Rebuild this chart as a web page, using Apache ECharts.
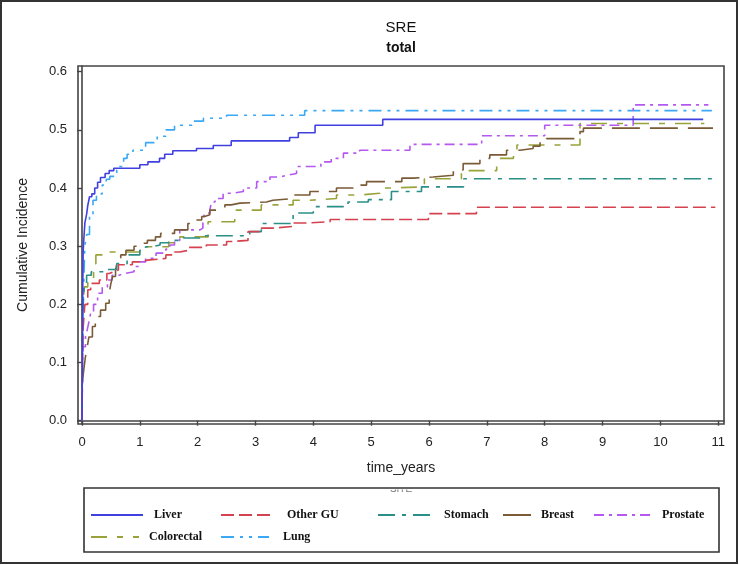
<!DOCTYPE html>
<html>
<head>
<meta charset="utf-8">
<script src="https://cdn.jsdelivr.net/npm/echarts@6/dist/echarts.min.js"></script>
<style>html,body{margin:0;padding:0;background:#fff}#c{width:740px;height:565px}</style>
</head>
<body>
<div id="c"></div>
<script>
// ---- data (time in years, cumulative incidence) ----
const seriesNames = ['Liver','Other GU','Stomach','Breast','Prostate','Colorectal','Lung'];
const xTicks = [0,1,2,3,4,5,6,7,8,9,10,11];
const yTicks = [0,0.1,0.2,0.3,0.4,0.5,0.6];

const liver = [[0,0],[0.005,0.1],[0.01,0.2],[0.02,0.29],[0.03,0.31],[0.05,0.34],[0.08,0.355],[0.1,0.37],[0.13,0.385],[0.17,0.39],[0.22,0.40],[0.27,0.41],[0.32,0.418],[0.4,0.425],[0.47,0.43],[0.55,0.434],[1.0,0.44],[1.14,0.445],[1.34,0.451],[1.43,0.458],[1.57,0.464],[1.98,0.468],[2.27,0.473],[2.58,0.481],[3.59,0.487],[3.74,0.495],[4.03,0.508],[5.2,0.518],[10.74,0.518]];
const otherGU = [[0,0],[0.005,0.06],[0.01,0.12],[0.02,0.16],[0.05,0.2],[0.1,0.225],[0.15,0.236],[0.3,0.242],[0.43,0.253],[0.47,0.256],[0.55,0.259],[0.63,0.268],[0.87,0.273],[1.0,0.276],[1.13,0.279],[1.45,0.285],[1.6,0.29],[1.69,0.293],[1.85,0.298],[2.15,0.302],[2.5,0.308],[2.6,0.31],[2.87,0.325],[3.1,0.331],[3.3,0.334],[3.65,0.34],[3.9,0.342],[4.29,0.346],[5.99,0.356],[6.82,0.367],[10.95,0.367]];
const stomach = [[0,0],[0.005,0.08],[0.01,0.15],[0.02,0.2],[0.04,0.23],[0.08,0.25],[0.16,0.256],[0.4,0.26],[0.6,0.27],[0.78,0.285],[1.0,0.293],[1.1,0.299],[1.2,0.302],[1.35,0.306],[1.5,0.31],[1.75,0.314],[2.1,0.318],[2.9,0.325],[3.1,0.339],[3.65,0.357],[4.0,0.368],[4.6,0.376],[4.95,0.38],[5.35,0.394],[5.87,0.402],[6.6,0.416],[10.95,0.416]];
const breast = [[0,0],[0.005,0.064],[0.03,0.087],[0.06,0.11],[0.09,0.127],[0.12,0.144],[0.18,0.162],[0.23,0.179],[0.32,0.19],[0.41,0.202],[0.47,0.219],[0.5,0.236],[0.53,0.248],[0.58,0.259],[0.61,0.273],[0.67,0.285],[0.76,0.293],[0.9,0.3],[1.04,0.305],[1.13,0.31],[1.27,0.316],[1.36,0.322],[1.6,0.328],[1.83,0.339],[1.92,0.345],[2.07,0.351],[2.12,0.354],[2.21,0.362],[2.33,0.365],[2.47,0.371],[2.58,0.374],[2.73,0.376],[3.19,0.379],[3.3,0.382],[3.65,0.388],[3.94,0.394],[4.4,0.4],[4.69,0.405],[4.92,0.411],[5.53,0.417],[5.73,0.419],[6.07,0.422],[6.42,0.431],[6.59,0.442],[6.88,0.451],[7.05,0.457],[7.34,0.465],[7.57,0.468],[7.8,0.472],[7.92,0.48],[8.03,0.485],[8.61,0.497],[8.67,0.503],[10.91,0.503]];
const prostate = [[0,0],[0.005,0.05],[0.01,0.1],[0.02,0.127],[0.06,0.144],[0.09,0.156],[0.12,0.17],[0.15,0.185],[0.2,0.2],[0.27,0.219],[0.35,0.23],[0.44,0.242],[0.52,0.25],[0.64,0.253],[0.73,0.256],[0.9,0.265],[0.99,0.273],[1.1,0.279],[1.28,0.288],[1.45,0.295],[1.52,0.302],[1.6,0.31],[1.69,0.328],[2.04,0.331],[2.09,0.345],[2.12,0.357],[2.21,0.362],[2.24,0.376],[2.3,0.382],[2.44,0.391],[2.61,0.394],[2.79,0.4],[3.02,0.411],[3.25,0.419],[3.42,0.422],[3.54,0.425],[3.71,0.437],[4.13,0.445],[4.31,0.451],[4.52,0.46],[4.8,0.465],[5.67,0.475],[6.91,0.49],[8.0,0.508],[9.53,0.543],[10.83,0.543]];
const colorectal = [[0,0],[0.005,0.1],[0.01,0.17],[0.02,0.2],[0.04,0.23],[0.1,0.24],[0.2,0.27],[0.24,0.285],[0.36,0.29],[1.0,0.299],[1.5,0.306],[1.69,0.316],[2.18,0.342],[2.64,0.362],[3.1,0.371],[3.65,0.379],[3.94,0.382],[4.4,0.388],[4.8,0.391],[5.15,0.4],[5.3,0.402],[5.92,0.416],[6.56,0.43],[7.17,0.442],[7.2,0.451],[7.46,0.465],[7.52,0.474],[8.61,0.511],[10.76,0.511]];
const lung = [[0,0],[0.01,0.1],[0.02,0.2],[0.04,0.27],[0.05,0.3],[0.08,0.32],[0.13,0.351],[0.19,0.379],[0.25,0.39],[0.35,0.405],[0.42,0.415],[0.48,0.42],[0.6,0.431],[0.65,0.437],[0.72,0.451],[0.78,0.458],[0.88,0.465],[1.1,0.478],[1.3,0.489],[1.45,0.5],[1.6,0.508],[1.9,0.515],[2.1,0.52],[2.5,0.525],[3.85,0.533],[10.89,0.533]];

const seriesData = [liver, otherGU, stomach, breast, prostate, colorectal, lung];

// ---- styles ----
const colors = ['#4040e0','#d4424f','#2a8f86','#7b5a36','#b458f0','#9aa33a','#3aa8f5'];
const dashes = ['solid',[13,5],[17,7,4,7],[28,10],[10,5,3,5],[16,10,6,10],[13,6,3,6,3,6]];
const legendPos = [
  {left:90, top:509, w:52, pad:6},
  {left:220, top:509, w:52, pad:9},
  {left:377, top:509, w:55, pad:6},
  {left:502, top:509, w:28, pad:5},
  {left:593, top:509, w:57, pad:6},
  {left:90, top:531, w:48, pad:5},
  {left:220, top:531, w:48, pad:9}
];

const chart = echarts.init(document.getElementById('c'), null, {renderer:'canvas'});
const axisFont = "'Liberation Sans', Arial, sans-serif";

const option = {
  animation: false,
  backgroundColor: '#fff',
  grid: {left:78, right:16, top:66, bottom:141, show:true, borderColor:'#444', borderWidth:1.6, backgroundColor:'transparent'},
  xAxis: {
    type:'value', min:-0.069, max:11.1,
    name:'time_years', nameLocation:'middle', nameGap:37,
    nameTextStyle:{fontFamily:axisFont, fontSize:14, color:'#222'},
    axisLine:{show:true, lineStyle:{color:'#444', width:1.6}},
    axisTick:{show:true, length:5, lineStyle:{color:'#444', width:1.4}, customValues:xTicks},
    axisLabel:{fontFamily:axisFont, fontSize:13, color:'#222', margin:12, customValues:xTicks},
    splitLine:{show:false}
  },
  yAxis: {
    type:'value', min:-0.0057, max:0.6098,
    name:'Cumulative Incidence', nameLocation:'middle', nameGap:48,
    nameTextStyle:{fontFamily:axisFont, fontSize:14, color:'#222'},
    axisLine:{show:true, lineStyle:{color:'#444', width:1.6}},
    axisTick:{show:true, length:5, lineStyle:{color:'#444', width:1.4}, customValues:yTicks},
    axisLabel:{fontFamily:axisFont, fontSize:13, color:'#222', margin:11, customValues:yTicks, formatter:v=>v.toFixed(1)},
    splitLine:{show:false}
  },
  legend: seriesNames.map((n,i)=>({
    data:[n], left:legendPos[i].left, top:legendPos[i].top,
    itemWidth:legendPos[i].w, itemHeight:14, padding:0,
    itemStyle:{opacity:0},
    textStyle:{fontFamily:"'Liberation Serif','Times New Roman',serif", fontWeight:'bold', fontSize:12, color:'#111', padding:[0,0,0,legendPos[i].pad]},
    selectedMode:false
  })),
  graphic: [
    {type:'rect', shape:{x:1, y:1, width:736, height:562}, style:{fill:'none', stroke:'#333', lineWidth:2}, z:100},
    {type:'text', x:401, y:28, style:{text:'SRE', fontFamily:axisFont, fontSize:15, fill:'#111', textAlign:'center', textVerticalAlign:'middle'}},
    {type:'text', x:401, y:48, style:{text:'total', fontFamily:axisFont, fontWeight:'bold', fontSize:14, fill:'#111', textAlign:'center', textVerticalAlign:'middle'}},
    {type:'text', x:401, y:489, style:{text:'SITE', fontFamily:axisFont, fontSize:10, fill:'#777', textAlign:'center', textVerticalAlign:'middle'}, z:1},
    {type:'rect', shape:{x:385, y:481, width:32, height:8.5}, style:{fill:'#fff'}, z:2},
    {type:'rect', shape:{x:84, y:488, width:635, height:64}, style:{fill:'none', stroke:'#333', lineWidth:1.6}, z:3}
  ],
  series: seriesNames.map((n,i)=>({
    name:n, type:'line', step:'end', data:seriesData[i],
    symbol:'none', showSymbol:false, clip:true,
    lineStyle:{color:colors[i], width:1.6, type:dashes[i]},
    itemStyle:{color:colors[i]},
    z: 10 - i
  }))
};
chart.setOption(option);
</script>
</body>
</html>
